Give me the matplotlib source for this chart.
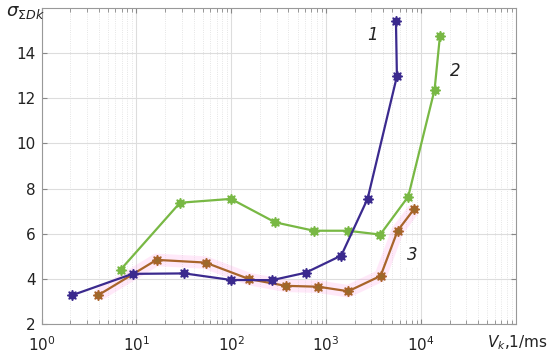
import numpy as np
import matplotlib.pyplot as plt
from matplotlib.ticker import LogLocator, NullFormatter

# curve 1 (blue)
v1 = [2.12, 9.1, 32.1, 99.3, 268, 608, 1443, 2736, 5570, 5440]
s1 = [3.28, 4.22, 4.24, 3.95, 3.94, 4.27, 5.03, 7.55, 12.97, 15.44]
# curve 2 (green)
v2 = [6.83, 28.8, 99.3, 291, 743, 1686, 3715, 7330, 13900, 15820]
s2 = [4.41, 7.37, 7.54, 6.50, 6.13, 6.13, 5.96, 7.64, 12.38, 14.75]
# curve 3 (brown)
v3 = [3.97, 16.3, 53.5, 154, 374, 829, 1710, 3750, 5665, 8415]
s3 = [3.28, 4.84, 4.72, 3.99, 3.69, 3.65, 3.45, 4.13, 6.13, 7.08]

curve_labels = ["1", "2", "3"]
yticks = [2, 4, 6, 8, 10, 12, 14]

fig = plt.figure(figsize=(5.5, 3.58), dpi=100)
ax = fig.add_axes([0.0755, 0.095, 0.8625, 0.883])

star = (8, 1, 0)
# soft pink glow under curve 3
ax.plot(v3, s3, color="#ff9ee6", lw=9, alpha=0.22, solid_capstyle="butt", zorder=2)
ax.plot(v1, s1, color="#3b2a8e", lw=1.6, marker=star, ms=7.5, zorder=4)
ax.plot(v2, s2, color="#78b844", lw=1.6, marker=star, ms=7.5, zorder=3)
ax.plot(v3, s3, color="#a8642a", lw=1.6, marker=star, ms=7.5,
        mfc="#9a6a2a", zorder=3)

ax.set_xscale("log")
ax.set_xlim(1, 1e5)
ax.set_ylim(2, 16)
ax.set_yticks(yticks)
ax.xaxis.set_minor_locator(LogLocator(base=10, subs=np.arange(2, 10), numticks=20))
ax.xaxis.set_minor_formatter(NullFormatter())
ax.set_xticks([1, 10, 100, 1000, 10000])

ax.grid(True, which="major", color="#dddddd", lw=0.8)
ax.grid(True, which="minor", axis="x", color="#dddddd", lw=0.6, ls=":")
ax.tick_params(which="both", direction="in", top=True, right=True,
               colors="#888888", labelcolor="#222222", labelsize=11)
ax.tick_params(axis="y", which="major", pad=4)
ax.tick_params(axis="x", which="major", pad=8)
ax.tick_params(which="minor", length=3)
for sp in ax.spines.values():
    sp.set_color("#999999")

lab = dict(fontsize=12, style="italic", color="#222222", ha="center", va="center")
ax.text(3100, 14.8, curve_labels[0], **lab)
ax.text(22700, 13.2, curve_labels[1], **lab)
ax.text(8000, 5.06, curve_labels[2],
        bbox=dict(facecolor="white", edgecolor="none", pad=2), **lab)

fig.text(0.01, 0.955, r"$\sigma_{\Sigma Dk}$", fontsize=13, color="#222222")
fig.text(0.885, 0.03, r"$V_k$,1/ms", fontsize=11, color="#222222")

fig.savefig("out.png", dpi=100)
